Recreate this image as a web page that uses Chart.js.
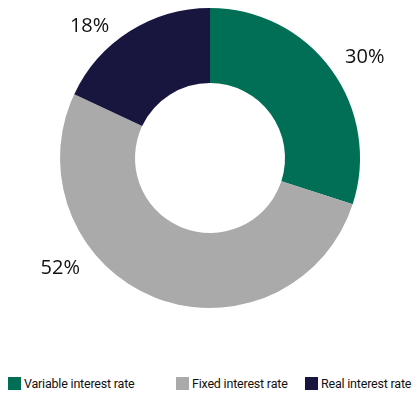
<!DOCTYPE html>
<html>
<head>
<meta charset="utf-8">
<script src="https://cdn.jsdelivr.net/npm/chart.js@4"></script>
<style>
  body { margin: 0; background: #fff; font-family: "Open Sans", sans-serif; }
  #wrap { position: relative; width: 414px; height: 393px; }
  #legend { position: absolute; top: 376px; left: 0; width: 414px; height: 16px; }
  .item { position: absolute; top: 0; display: flex; align-items: center; font-family: Roboto, sans-serif; font-size: 12.5px; letter-spacing: -0.2px; color: #111; white-space: nowrap; }
  .box { width: 13px; height: 13px; margin-right: 3px; }
</style>
</head>
<body>
<div id="wrap">
  <canvas id="pieChart" width="414" height="360"></canvas>
  <div id="legend"></div>
</div>
<script>
const categories = ['Variable interest rate', 'Fixed interest rate', 'Real interest rate'];
const shares = [30, 52, 18];
const colours = ['#006f55', '#aaaaaa', '#18163f'];
// small tweaks to where the % labels sit, relative to slice middle
const labelAngleShift = [3, 32, -10];
const labelRadius = [1.23, 1.24, 1.19];
const legendLeft = [8, 176, 305];

const outsideLabels = {
    id: 'outsideLabels',
    afterDatasetsDraw(chart) {
        let ctx = chart.ctx;
        let meta = chart.getDatasetMeta(0);
        ctx.save();
        ctx.font = '20px "Open Sans", sans-serif';
        ctx.fillStyle = '#111';
        ctx.textAlign = 'center';
        ctx.textBaseline = 'middle';
        meta.data.forEach((arc, i) => {
            let mid = (arc.startAngle + arc.endAngle) / 2 + labelAngleShift[i] * Math.PI / 180;
            let r = arc.outerRadius * labelRadius[i];
            ctx.fillText(shares[i] + '%', arc.x + Math.cos(mid) * r, arc.y + Math.sin(mid) * r);
        });
        ctx.restore();
    }
};

let ctx = document.getElementById('pieChart').getContext('2d');
new Chart(ctx, {
    type: 'doughnut',
    data: {
        labels: categories,
        datasets: [{
            data: shares,
            backgroundColor: colours,
            borderWidth: 0
        }]
    },
    options: {
        responsive: false,
        animation: false,
        cutout: '50%',
        layout: { padding: { top: 8, bottom: 52, left: 60, right: 54 } },
        plugins: {
            legend: { display: false },
            tooltip: { enabled: false }
        }
    },
    plugins: [outsideLabels]
});

let legend = document.getElementById('legend');
categories.forEach((name, i) => {
    let item = document.createElement('div');
    item.className = 'item';
    item.style.left = legendLeft[i] + 'px';
    item.innerHTML = '<span class="box" style="background:' + colours[i] + '"></span>' + name;
    legend.appendChild(item);
});
</script>
</body>
</html>
